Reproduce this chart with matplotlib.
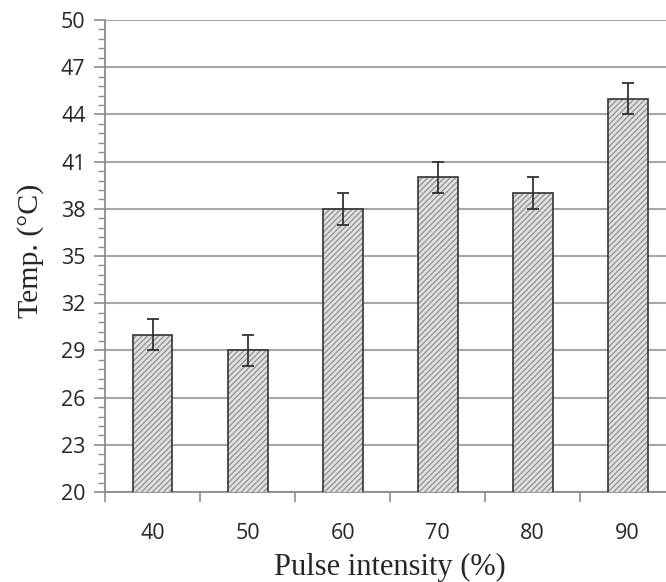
import numpy as np
import matplotlib.pyplot as plt
from matplotlib.ticker import FixedLocator

# Temperatura medida para cada intensidade de pulso
intensidades = ["40", "50", "60", "70", "80", "90"]
temperaturas = [30, 29, 38, 40, 39, 45]
erros = [1, 1, 1, 1, 1, 1]

fig = plt.figure(figsize=(6.66, 5.82), dpi=100)
ax = fig.add_axes([0.1577, 0.1546, 0.856, 0.811])

x = np.arange(len(intensidades))
largura = 0.42

# Preenchimento hachurado
ax.bar(x, temperaturas, width=largura, color="#e2e2e2", hatch="//////",
       edgecolor="#959595", linewidth=0, zorder=3)
# Contorno das barras
ax.bar(x, temperaturas, width=largura, fill=False, edgecolor="#333333",
       linewidth=1.2, zorder=4)
ax.errorbar(x, temperaturas, yerr=erros, fmt="none", ecolor="#333333",
            elinewidth=1.3, capsize=4, capthick=1.3, zorder=5)

ax.set_ylim(20, 50)
ax.set_xlim(-0.5, len(intensidades) - 0.5)
ax.yaxis.set_major_locator(FixedLocator(np.arange(20, 51, 3)))
ax.yaxis.set_minor_locator(FixedLocator(np.arange(20, 50.01, 0.6)))
ax.set_xticks(x)
ax.set_xticklabels(intensidades)
ax.xaxis.set_minor_locator(FixedLocator(np.arange(-0.5, len(intensidades), 1)))

ax.grid(axis="y", color="#a6a6a6", linewidth=1.5, zorder=0)
for lado in ["top", "right"]:
    ax.spines[lado].set_visible(False)
for lado in ["left", "bottom"]:
    ax.spines[lado].set_color("#8c8c8c")
    ax.spines[lado].set_linewidth(1.3)

ax.tick_params(axis="y", which="major", length=8, width=1.2, color="#8c8c8c",
               labelsize=15.5, pad=6)
ax.tick_params(axis="y", which="minor", length=5, width=1.0, color="#8c8c8c")
ax.tick_params(axis="x", which="major", length=0, labelsize=15.5, pad=22)
ax.tick_params(axis="x", which="minor", length=7, width=1.2, color="#8c8c8c")
for rotulo in ax.get_xticklabels() + ax.get_yticklabels():
    rotulo.set_fontfamily("Open Sans")
    rotulo.set_color("#262626")

ax.set_xlabel("Pulse intensity (%)", fontsize=22, family="Liberation Serif",
              color="#262626", labelpad=7)
ax.set_ylabel("Temp. (°C)", fontsize=21.5, family="Liberation Serif",
              color="#262626")
ax.yaxis.set_label_coords(-0.107, 0.51)

plt.savefig("out.png", dpi=100)
